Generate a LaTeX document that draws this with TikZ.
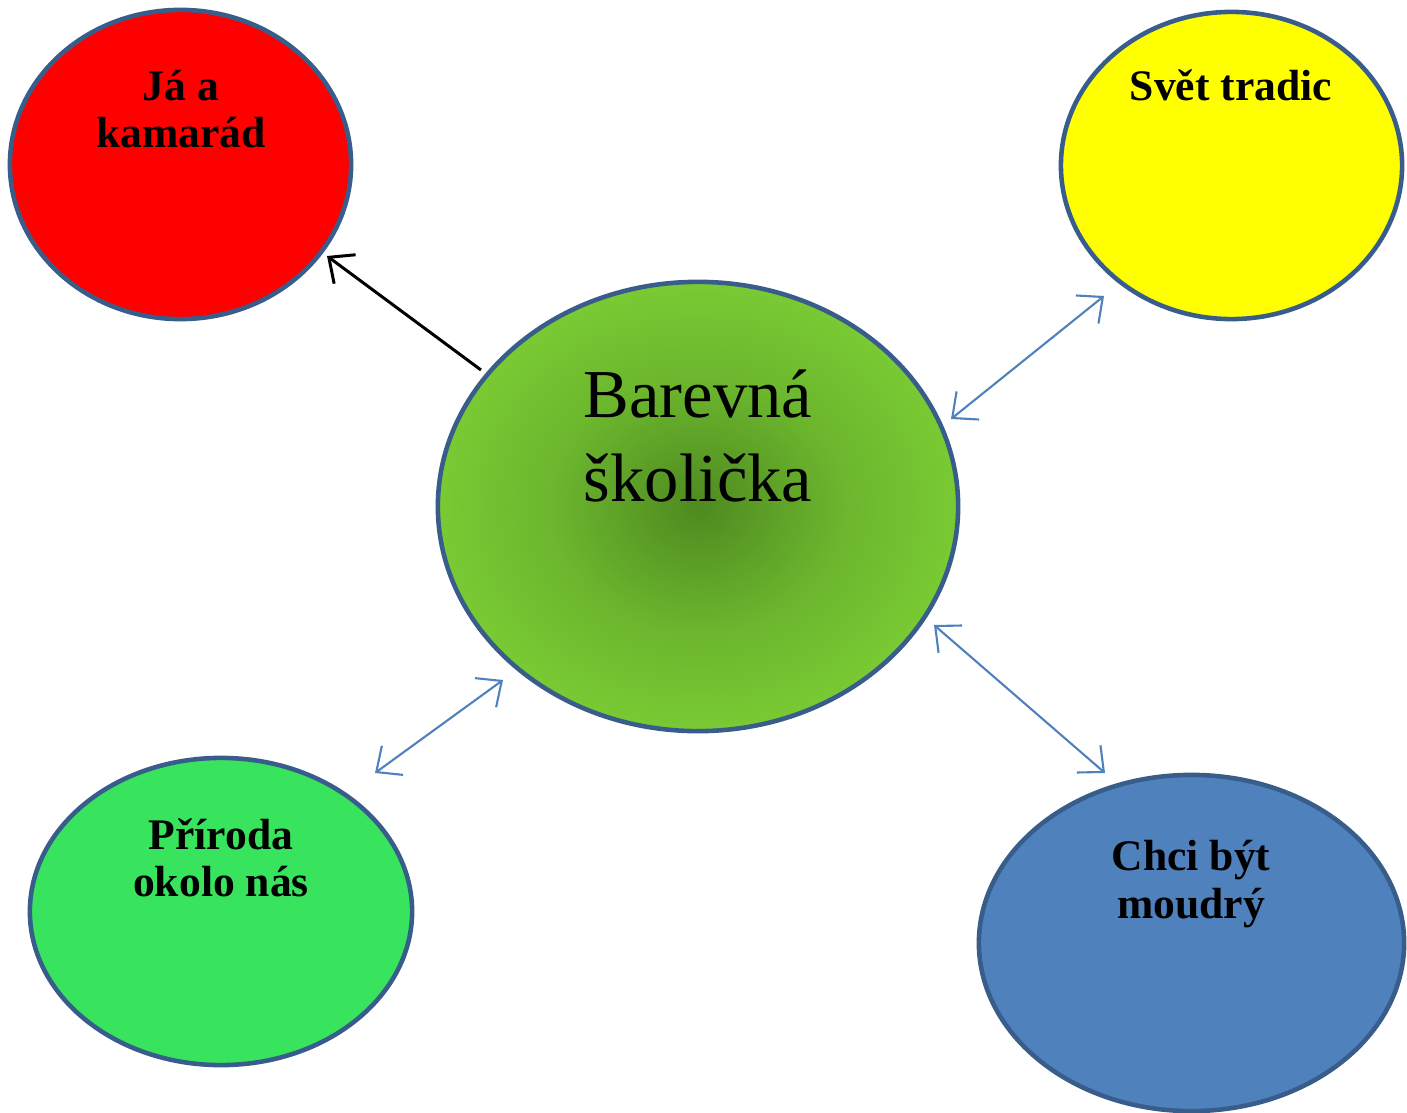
\documentclass[tikz,border=0pt]{standalone}
\usepackage{fontspec}
\setmainfont{Liberation Serif}
\usetikzlibrary{shapes.geometric, arrows.meta}

\definecolor{rimblue}{HTML}{385D8A}
\definecolor{arrowblue}{HTML}{4F81BD}
\definecolor{leafred}{HTML}{FF0000}
\definecolor{sunyellow}{HTML}{FFFF00}
\definecolor{leafgreen}{HTML}{38E45E}
\definecolor{skyblue}{HTML}{4F81BD}
\definecolor{greendeep}{HTML}{4E8A20}
\definecolor{greenlight}{HTML}{84DA38}

\pgfdeclareradialshading{meadow}{\pgfpoint{0bp}{0bp}}{%
  color(0bp)=(greendeep); color(14bp)=(greendeep!45!greenlight);
  color(34bp)=(greenlight); color(50bp)=(greenlight)}

\tikzset{
  bubble/.style={ellipse, draw=rimblue, line width=1.3pt, inner sep=0pt},
  bubbletext/.style={font=\fontsize{12.4}{13.4}\selectfont\bfseries, align=center, inner sep=0pt},
  twoway/.style={draw=arrowblue, line width=0.6pt,
    {Straight Barb[length=2mm,width=3.6mm]}-{Straight Barb[length=2mm,width=3.6mm]}}
}

\begin{document}
\begin{tikzpicture}[x=0.01cm, y=-0.01cm]
  \useasboundingbox (0,0) rectangle (1407,1113);

  % bubbles
  \node[bubble, fill=leafred, minimum width=3.41cm, minimum height=3.09cm] (ja) at (180.5,164.5) {};
  \node[bubble, fill=sunyellow, minimum width=3.41cm, minimum height=3.07cm] (svet) at (1231.5,165.5) {};
  \node[bubble, shading=meadow, minimum width=5.2cm, minimum height=4.49cm] (skolka) at (698,506.5) {};
  \node[bubble, fill=leafgreen, minimum width=3.82cm, minimum height=3.07cm] (priroda) at (221,911.5) {};
  \node[bubble, fill=skyblue, minimum width=4.25cm, minimum height=3.36cm] (moudry) at (1191.5,943) {};

  % texts
  \node[bubbletext] (jaT) at (181,109) {Já a\\kamarád};
  \node[bubbletext] (svetT) at (1231,85) {Svět tradic};
  \node[font=\fontsize{19.5}{24}\selectfont, align=center, inner sep=0pt] (skolkaT) at (698,436) {Barevná\\školička};
  \node[bubbletext] (prirodaT) at (221,858) {Příroda\\okolo nás};
  \node[bubbletext] (moudryT) at (1191,884) {Chci být\\moudrý};

  % arrow ends
  \coordinate (jaEnd) at (327,256);
  \coordinate (jaStart) at (481,370);
  \coordinate (svetA) at (951,419);
  \coordinate (svetB) at (1104,296);
  \coordinate (prirodaA) at (503,680);
  \coordinate (prirodaB) at (375,773);
  \coordinate (moudryA) at (934,625);
  \coordinate (moudryB) at (1105,773);

  \draw[line width=0.85pt, -{Straight Barb[length=2mm,width=3.6mm]}] (jaStart) -- (jaEnd);
  \draw[twoway] (svetA) -- (svetB);
  \draw[twoway] (prirodaA) -- (prirodaB);
  \draw[twoway] (moudryA) -- (moudryB);
\end{tikzpicture}
\end{document}
